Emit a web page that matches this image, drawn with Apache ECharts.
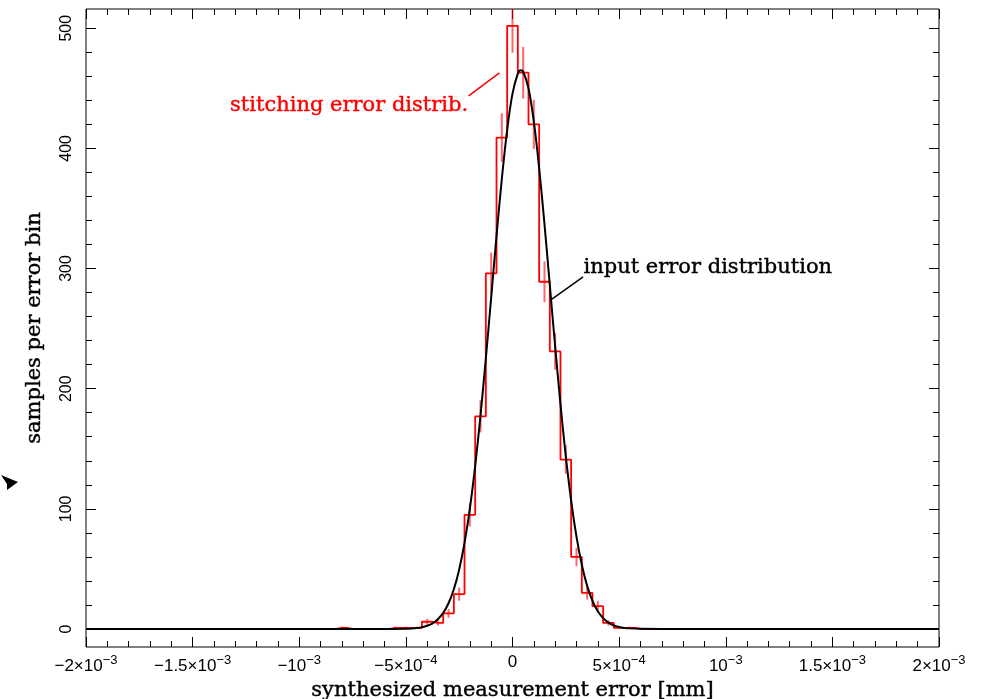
<!DOCTYPE html>
<html>
<head>
<meta charset="utf-8">
<script src="https://cdn.jsdelivr.net/npm/echarts@6/dist/echarts.min.js"></script>
<style>
  html, body { margin: 0; padding: 0; background: #fff; }
  #main { width: 985px; height: 699px; }
</style>
</head>
<body>
<div id="main"></div>
<script>
// Histogram of stitching errors: bins of 5e-5 mm centred from -2e-3 to 2e-3 mm
const binStart = -2e-3;
const binWidth = 5e-5;
const counts = [
  0, 0, 0, 0, 0, 0, 0, 0, 0, 0,
  0, 0, 0, 0, 0, 0, 0, 0, 0, 0,
  0, 0, 0, 0, 1, 0, 0, 0, 0, 1,
  1, 1, 6, 5, 13, 29, 95, 177, 296, 409,
  502, 463, 420, 289, 231, 141, 60, 30, 19, 5,
  1, 1, 0, 0, 0, 0, 0, 0, 0, 0,
  0, 0, 0, 0, 0, 0, 0, 0, 0, 0,
  0, 0, 0, 0, 0, 0, 0, 0, 0, 0,
  0
];
// half length of the error bar drawn on each bin (0 = no bar)
const errHalf = [
  0, 0, 0, 0, 0, 0, 0, 0, 0, 0,
  0, 0, 0, 0, 0, 0, 0, 0, 0, 0,
  0, 0, 0, 0, 1, 0, 0, 0, 0, 1,
  1, 1, 2.4, 2.2, 3.6, 5.4, 9.7, 13.3, 17.2, 20.2,
  22.4, 21.5, 20.5, 17, 15.2, 11.9, 7.7, 5.5, 4.4, 2.2,
  1, 1, 0, 0, 0, 0, 0, 0, 0, 0,
  0, 0, 0, 0, 0, 0, 0, 0, 0, 0,
  0, 0, 0, 0, 0, 0, 0, 0, 0, 0,
  0
];

// Input error distribution curve
const curveX = [
  -2e-3, -6e-4, -5e-4, -4.75e-4, -4.5e-4, -4.25e-4, -4e-4, -3.75e-4, -3.5e-4, -3.25e-4,
  -3e-4, -2.75e-4, -2.5e-4, -2.25e-4, -2e-4, -1.75e-4, -1.5e-4, -1.25e-4, -1e-4, -7.5e-5,
  -5e-5, -2.5e-5, 0, 2.5e-5, 3.75e-5, 5e-5, 7.5e-5, 1e-4, 1.25e-4, 1.5e-4,
  1.75e-4, 2e-4, 2.25e-4, 2.5e-4, 2.75e-4, 3e-4, 3.25e-4, 3.5e-4, 3.75e-4, 4e-4,
  4.25e-4, 4.5e-4, 4.75e-4, 5e-4, 5.25e-4, 5.5e-4, 6e-4, 7e-4, 2e-3
];
const curveY = [
  0, 0, 0.2, 0.4, 0.8, 1.5, 2.7, 4.7, 8.1, 13.4,
  21.4, 33.1, 49.5, 71.6, 100.2, 135.7, 177.7, 225.2, 275.8, 326.9,
  374.7, 415.5, 445.6, 462.2, 465.0, 463.8, 450.1, 422.4, 383.6, 336.9,
  286.2, 235.1, 186.9, 143.6, 106.8, 76.8, 53.4, 35.9, 23.4, 14.7,
  9.0, 5.3, 3.0, 1.7, 0.9, 0.5, 0.1, 0, 0
];

// Axis ranges and tick labels
const xMin = -2e-3, xMax = 2e-3, xStep = 5e-4;
const xTickMain = ['−2×10', '−1.5×10', '−10', '−5×10', '0', '5×10', '10', '1.5×10', '2×10'];
const xTickExp = ['−3', '−3', '−3', '−4', '', '−4', '−3', '−3', '−3'];
const yMin = -15, yMax = 516;
const yMajor = [0, 100, 200, 300, 400, 500];
const yMinor = [0, 20, 40, 60, 80, 100, 120, 140, 160, 180, 200, 220, 240, 260, 280, 300,
  320, 340, 360, 380, 400, 420, 440, 460, 480, 500];

// Annotation anchors in data units
const stitchText = 'stitching error distrib.';
const stitchTextAt = [-2.08e-4, 436];
const stitchLine = [[-2.06e-4, 443.7], [-6.1e-5, 462.8]];
const inputText = 'input error distribution';
const inputTextAt = [3.33e-4, 301];
const inputLine = [[1.85e-4, 274.5], [3.31e-4, 293.1]];

const serif = 'DejaVu Serif';
const sans = 'Liberation Sans';

const histData = counts.map((c, i) => [binStart + i * binWidth, c]);
const errData = [];
counts.forEach((c, i) => { if (errHalf[i] > 0) errData.push([binStart + i * binWidth, c, errHalf[i]]); });
const curveData = curveX.map((x, i) => [x, curveY[i]]);

function xLabel(v) {
  const i = Math.round((v - xMin) / xStep);
  const m = xTickMain[i];
  const e = xTickExp[i];
  return e ? '{m|' + m + '}{s|' + e + '}' : '{m|' + m + '}';
}

const tickStyle = { color: '#000', width: 1 };

function xAxisDef(pos, withLabels) {
  return {
    type: 'value', position: pos, min: xMin, max: xMax, interval: xStep,
    axisLine: { show: false, onZero: false }, splitLine: { show: false },
    axisTick: { show: true, inside: true, length: 10, lineStyle: tickStyle },
    minorTick: { show: true, splitNumber: 5, length: 6, lineStyle: tickStyle },
    axisLabel: withLabels ? {
      show: true, margin: 7, formatter: xLabel,
      rich: {
        m: { fontFamily: sans, fontSize: 17, color: '#000' },
        s: { fontFamily: sans, fontSize: 13, color: '#000', padding: [0, 0, 11, 0] }
      }
    } : { show: false }
  };
}

function yAxisDef(pos, values, len, withLabels) {
  return {
    type: 'value', position: pos, min: yMin, max: yMax,
    axisLine: { show: false, onZero: false }, splitLine: { show: false },
    axisTick: { show: true, inside: true, length: len, customValues: values, lineStyle: tickStyle },
    axisLabel: withLabels ? {
      show: true, customValues: values, rotate: 90, margin: 11,
      fontFamily: sans, fontSize: 16, color: '#000'
    } : { show: false }
  };
}

const titleStyle = { fontFamily: serif, fontSize: 21, color: '#000', textBorderColor: '#000', textBorderWidth: 0.4 };

const xAxes = [xAxisDef('bottom', true), xAxisDef('top', false)];
xAxes[0].name = 'synthesized measurement error [mm]';
xAxes[0].nameLocation = 'middle';
xAxes[0].nameGap = 33;
xAxes[0].nameTextStyle = titleStyle;

const yAxes = [
  yAxisDef('left', yMajor, 10, true),
  yAxisDef('left', yMinor, 6, false),
  yAxisDef('right', yMajor, 10, false),
  yAxisDef('right', yMinor, 6, false)
];
yAxes[0].name = 'samples per error bin';
yAxes[0].nameLocation = 'middle';
yAxes[0].nameGap = 41;
yAxes[0].nameTextStyle = titleStyle;

const chart = echarts.init(document.getElementById('main'));
chart.setOption({
  animation: false,
  backgroundColor: '#fff',
  grid: {
    left: 86, right: 46, top: 9, bottom: 52, show: true,
    borderColor: '#000', borderWidth: 1, containLabel: false, outerBoundsMode: 'none'
  },
  xAxis: xAxes,
  yAxis: yAxes,
  series: [
    {
      name: 'stitching error distrib.', type: 'line', step: 'middle', data: histData,
      xAxisIndex: 0, yAxisIndex: 0, symbol: 'none',
      lineStyle: { color: '#ff0000', width: 1.8 }, z: 2
    },
    {
      name: 'error bars', type: 'custom', data: errData, xAxisIndex: 0, yAxisIndex: 0,
      clip: true, z: 2,
      renderItem: function (params, api) {
        const x = api.value(0), c = api.value(1), e = api.value(2);
        const p1 = api.coord([x, c - e]);
        const p2 = api.coord([x, c + e]);
        return {
          type: 'line',
          shape: { x1: p1[0], y1: p1[1], x2: p2[0], y2: p2[1] },
          style: { stroke: 'rgba(255,0,0,0.6)', lineWidth: 2 }
        };
      }
    },
    {
      name: 'input error distribution', type: 'line', data: curveData, smooth: 0.3,
      xAxisIndex: 0, yAxisIndex: 0, symbol: 'none',
      lineStyle: { color: '#000', width: 2 }, z: 3
    }
  ]
});

const px = p => chart.convertToPixel({ xAxisIndex: 0, yAxisIndex: 0 }, p);
const sA = px(stitchLine[0]), sB = px(stitchLine[1]);
const iA = px(inputLine[0]), iB = px(inputLine[1]);
const sT = px(stitchTextAt), iT = px(inputTextAt);

chart.setOption({
  graphic: [
    { type: 'line', shape: { x1: sA[0], y1: sA[1], x2: sB[0], y2: sB[1] },
      style: { stroke: '#ff0000', lineWidth: 1.5 }, z: 10 },
    { type: 'text', x: sT[0], y: sT[1],
      style: { text: stitchText, fill: '#ff0000', stroke: '#ff0000', lineWidth: 0.4,
        font: '21px "DejaVu Serif"', textAlign: 'right', textVerticalAlign: 'middle' }, z: 10 },
    { type: 'line', shape: { x1: iA[0], y1: iA[1], x2: iB[0], y2: iB[1] },
      style: { stroke: '#000', lineWidth: 1.5 }, z: 10 },
    { type: 'text', x: iT[0], y: iT[1],
      style: { text: inputText, fill: '#000', stroke: '#000', lineWidth: 0.4,
        font: '21px "DejaVu Serif"', textAlign: 'left', textVerticalAlign: 'middle' }, z: 10 },
    // pointer arrow at the left edge
    { type: 'polygon', shape: { points: [[1, 475], [18, 482], [7, 490], [7, 484]] },
      style: { fill: '#000' }, z: 10 }
  ]
});
</script>
</body>
</html>
